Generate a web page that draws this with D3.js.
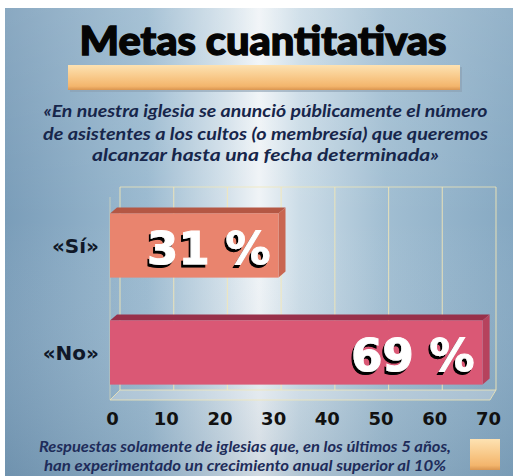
<!DOCTYPE html>
<html lang="es">
<head>
  <meta charset="UTF-8">
  <title>Metas cuantitativas</title>
  <style>
    html, body { margin: 0; padding: 0; background: #ffffff; }
    svg { display: block; }
  </style>
  <script src="https://d3js.org/d3.v7.min.js"></script>
</head>
<body>
  <div id="chart"></div>
  <script>
    // -----------------------------
    // Data
    // -----------------------------
    const categories = ["«Sí»", "«No»"];
    const values = [31, 69];
    const valueLabels = ["31 %", "69 %"];
    const tickValues = [0, 10, 20, 30, 40, 50, 60, 70];
    const titleText = "Metas cuantitativas";
    const subtitleLines = [
      "«En nuestra iglesia se anunció públicamente el número",
      "de asistentes a los cultos (o membresía) que queremos",
      "alcanzar hasta una fecha determinada»"
    ];
    const footnoteLines = [
      "Respuestas solamente de iglesias que, en los últimos 5 años,",
      "han experimentado un crecimiento anual superior al 10%"
    ];

    const barFront = ["#e9846e", "#da5875"];
    const barTop = ["#b45744", "#98304a"];
    const barSide = ["#c96651", "#b6425d"];

    // -----------------------------
    // Setup
    // -----------------------------
    const width = 517, height = 476;
    const svg = d3.select("#chart").append("svg")
      .attr("width", width)
      .attr("height", height);

    const defs = svg.append("defs");

    const bg = defs.append("linearGradient").attr("id", "bg")
      .attr("x1", "0").attr("x2", "1").attr("y1", "0").attr("y2", "0");
    [[0, "#7a9db9"], [0.28, "#9bbad0"], [0.44, "#d5e2eb"], [0.5, "#f0f4f7"],
     [0.58, "#cbdce7"], [0.75, "#a1bed2"], [1, "#85a8c2"]]
      .forEach(s => bg.append("stop").attr("offset", s[0]).attr("stop-color", s[1]));

    const shade = defs.append("linearGradient").attr("id", "shade")
      .attr("x1", "0").attr("x2", "0").attr("y1", "0").attr("y2", "1");
    [[0, "#ffffff", 0.12], [0.45, "#ffffff", 0.0], [1, "#3d5f7c", 0.18]]
      .forEach(s => shade.append("stop").attr("offset", s[0])
        .attr("stop-color", s[1]).attr("stop-opacity", s[2]));

    const orange = defs.append("linearGradient").attr("id", "orange")
      .attr("x1", "0").attr("x2", "0").attr("y1", "0").attr("y2", "1");
    [[0, "#fde2b2"], [0.5, "#f8c888"], [0.85, "#f3b56c"], [1, "#d99550"]]
      .forEach(s => orange.append("stop").attr("offset", s[0]).attr("stop-color", s[1]));

    const shadow = defs.append("filter").attr("id", "txtShadow")
      .attr("x", "-20%").attr("y", "-20%").attr("width", "140%").attr("height", "140%");
    shadow.append("feDropShadow")
      .attr("dx", -2).attr("dy", 3).attr("stdDeviation", 0.6)
      .attr("flood-color", "#000").attr("flood-opacity", 1);

    // background panel
    svg.append("rect").attr("x", 5).attr("y", 8).attr("width", 508).attr("height", 468)
      .attr("fill", "url(#bg)");
    svg.append("rect").attr("x", 5).attr("y", 8).attr("width", 508).attr("height", 468)
      .attr("fill", "url(#shade)");

    // -----------------------------
    // Title block
    // -----------------------------
    svg.append("text")
      .attr("x", 263).attr("y", 55)
      .attr("text-anchor", "middle")
      .attr("font-family", "Lato, 'Open Sans', sans-serif")
      .attr("font-weight", 900)
      .attr("font-size", 40)
      .attr("textLength", 367).attr("lengthAdjust", "spacingAndGlyphs")
      .attr("fill", "#050505")
      .attr("stroke", "#050505").attr("stroke-width", 1.4)
      .text(titleText);

    svg.append("rect").attr("x", 70).attr("y", 67).attr("width", 392).attr("height", 25)
      .attr("fill", "#8a9fb0").attr("opacity", 0.6);
    svg.append("rect").attr("x", 68).attr("y", 65).attr("width", 392).attr("height", 25)
      .attr("fill", "url(#orange)");

    const subWidths = [444, 445, 347];
    const subBase = [117, 140, 161];
    svg.append("g").selectAll("text")
      .data(subtitleLines)
      .join("text")
      .attr("x", 265.5)
      .attr("y", (d, i) => subBase[i])
      .attr("text-anchor", "middle")
      .attr("font-family", "Lato, 'Open Sans', sans-serif")
      .attr("font-style", "italic")
      .attr("font-weight", 700)
      .attr("font-size", 17.5)
      .attr("textLength", (d, i) => subWidths[i])
      .attr("lengthAdjust", "spacingAndGlyphs")
      .attr("fill", "#17264b")
      .text(d => d);

    // -----------------------------
    // Scales
    // -----------------------------
    const x = d3.scaleLinear().domain([0, 70]).range([112, 488]);
    const y = d3.scaleBand().domain(categories).range([192, 406])
      .paddingInner(0.4).paddingOuter(0.2);

    // box geometry (3D wall and floor)
    const wallTop = 187, floorFront = 400;
    const bdx = 8, bdy = 10;

    const grid = svg.append("g").attr("stroke", "#f3e7b5").attr("fill", "none");

    // floor
    grid.append("path")
      .attr("d", `M${x(0) - 2},${floorFront} L${x(70) + 2},${floorFront} L${x(70) + bdx},${floorFront - bdy} L${x(0) + bdx},${floorFront - bdy} Z`)
      .attr("fill", "#e8eff4").attr("fill-opacity", 0.35)
      .attr("stroke-opacity", 0.8).attr("stroke-width", 1);

    // back wall gridlines
    grid.selectAll("line.v")
      .data(tickValues)
      .join("line")
      .attr("class", "v")
      .attr("x1", d => x(d) + bdx).attr("x2", d => x(d) + bdx)
      .attr("y1", wallTop).attr("y2", floorFront - bdy)
      .attr("stroke-opacity", 0.75).attr("stroke-width", 1.2);

    grid.append("line")
      .attr("x1", x(0) + bdx).attr("x2", x(70) + bdx)
      .attr("y1", wallTop).attr("y2", wallTop)
      .attr("stroke-opacity", 0.75).attr("stroke-width", 1.2);

    // left front edge
    grid.append("line")
      .attr("x1", x(0) - 2).attr("x2", x(0) - 2)
      .attr("y1", wallTop + bdy).attr("y2", floorFront)
      .attr("stroke-opacity", 0.5);

    // -----------------------------
    // Bars (3D)
    // -----------------------------
    const dx = 7, dy = 6;
    const bars = svg.append("g").selectAll("g")
      .data(values)
      .join("g");

    bars.append("path")
      .attr("d", (d, i) => {
        const y0 = y(categories[i]), x0 = x(0) - 2, x1 = x(d);
        return `M${x0},${y0} L${x0 + dx},${y0 - dy} L${x1 + dx},${y0 - dy} L${x1},${y0} Z`;
      })
      .attr("fill", (d, i) => barTop[i]);

    bars.append("path")
      .attr("d", (d, i) => {
        const y0 = y(categories[i]), h = y.bandwidth(), x1 = x(d);
        return `M${x1},${y0} L${x1 + dx},${y0 - dy} L${x1 + dx},${y0 + h - dy} L${x1},${y0 + h} Z`;
      })
      .attr("fill", (d, i) => barSide[i]);

    bars.append("rect")
      .attr("x", x(0) - 2)
      .attr("y", (d, i) => y(categories[i]))
      .attr("width", d => x(d) - x(0) + 2)
      .attr("height", y.bandwidth())
      .attr("fill", (d, i) => barFront[i]);

    bars.append("text")
      .attr("x", d => x(d) - 8)
      .attr("y", (d, i) => y(categories[i]) + y.bandwidth() / 2 + 18)
      .attr("text-anchor", "end")
      .attr("font-family", "'DejaVu Sans', sans-serif")
      .attr("font-weight", 700)
      .attr("font-size", 45)
      .attr("fill", "#ffffff")
      .attr("stroke", "#ffffff").attr("stroke-width", 1)
      .attr("filter", "url(#txtShadow)")
      .text((d, i) => valueLabels[i]);

    // category labels
    svg.append("g").selectAll("text")
      .data(categories)
      .join("text")
      .attr("x", 99)
      .attr("y", d => y(d) + y.bandwidth() / 2 + 7)
      .attr("text-anchor", "end")
      .attr("font-family", "'DejaVu Sans', sans-serif")
      .attr("font-weight", 700)
      .attr("font-size", 20)
      .attr("fill", "#101828")
      .text(d => d);

    // -----------------------------
    // Axis
    // -----------------------------
    const axis = svg.append("g")
      .attr("transform", "translate(0,425)")
      .call(d3.axisBottom(x).tickValues(tickValues).tickSize(0).tickPadding(0));
    axis.select(".domain").remove();
    axis.selectAll("text")
      .attr("dy", 0)
      .attr("font-family", "'DejaVu Sans', sans-serif")
      .attr("font-weight", 700)
      .attr("font-size", 18)
      .attr("fill", "#111111");

    // -----------------------------
    // Footnote + legend swatch
    // -----------------------------
    const footWidths = [412, 402];
    const footBase = [452, 471];
    svg.append("g").selectAll("text")
      .data(footnoteLines)
      .join("text")
      .attr("x", 245)
      .attr("y", (d, i) => footBase[i])
      .attr("text-anchor", "middle")
      .attr("font-family", "Lato, 'Open Sans', sans-serif")
      .attr("font-style", "italic")
      .attr("font-weight", 700)
      .attr("font-size", 15)
      .attr("textLength", (d, i) => footWidths[i])
      .attr("lengthAdjust", "spacingAndGlyphs")
      .attr("fill", "#1e2c5a")
      .text(d => d);

    svg.append("rect").attr("x", 470).attr("y", 439).attr("width", 30).attr("height", 31)
      .attr("fill", "url(#orange)");
  </script>
</body>
</html>
